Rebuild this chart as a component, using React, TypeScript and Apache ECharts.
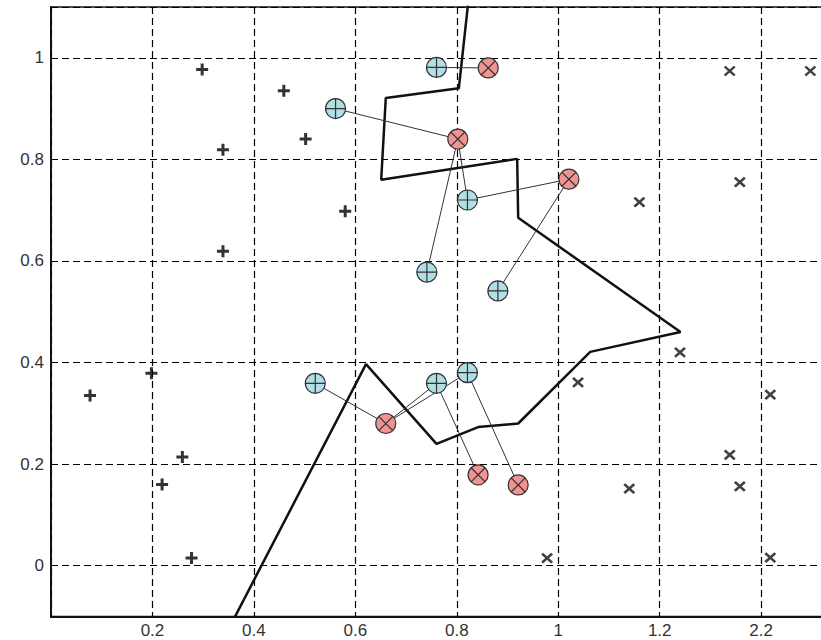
import React, { useEffect, useRef } from "react";
import * as echarts from "echarts";

// ---- data ----
const xTickLabels = ["0.2", "0.4", "0.6", "0.8", "1", "1.2", "2.2"];
const yTickLabels = ["0", "0.2", "0.4", "0.6", "0.8", "1"];

const plusPoints: [number, number][] = [
  [0.298, 0.977], [0.459, 0.935], [0.502, 0.84], [0.339, 0.819], [0.58, 0.698],
  [0.339, 0.619], [0.198, 0.379], [0.077, 0.335], [0.259, 0.214], [0.219, 0.16], [0.277, 0.015],
];

const crossPoints: [number, number][] = [
  [1.338, 0.974], [1.497, 0.974], [1.358, 0.755], [1.16, 0.716], [1.24, 0.42],
  [1.039, 0.361], [1.418, 0.337], [1.338, 0.218], [1.14, 0.152], [1.358, 0.156],
  [0.978, 0.015], [1.418, 0.016],
];

const bluePoints: [number, number][] = [
  [0.76, 0.981], [0.561, 0.9], [0.821, 0.72], [0.741, 0.578], [0.881, 0.541],
  [0.521, 0.359], [0.76, 0.359], [0.821, 0.38],
];

const redPoints: [number, number][] = [
  [0.862, 0.98], [0.802, 0.84], [1.021, 0.761], [0.66, 0.28], [0.842, 0.179], [0.921, 0.159],
];

// [blue index, red index]
const links: [number, number][] = [
  [0, 0], [1, 1], [2, 1], [2, 2], [3, 1], [4, 2], [5, 3], [6, 3], [7, 3], [6, 4], [7, 5],
];

const pathPoints: [number, number][] = [
  [0.827, 1.15], [0.804, 0.94], [0.66, 0.921], [0.651, 0.76], [0.919, 0.801], [0.921, 0.685],
  [1.241, 0.46], [1.063, 0.421], [0.921, 0.28], [0.842, 0.273], [0.76, 0.24], [0.621, 0.397],
  [0.311, -0.2],
];

const PLUS_SYMBOL = "path://M5,0 L5,10 M0,5 L10,5";
const X_SYMBOL = "path://M0,0 L10,10 M10,0 L0,10";
const BLUE_SYMBOL =
  "path://M0,10 A10,10 0 1 1 20,10 A10,10 0 1 1 0,10 Z M10,0 L10,20 M0,10 L20,10";
const RED_SYMBOL =
  "path://M0,10 A10,10 0 1 1 20,10 A10,10 0 1 1 0,10 Z M2.93,2.93 L17.07,17.07 M17.07,2.93 L2.93,17.07";

export default function App() {
  const ref = useRef<HTMLDivElement>(null);

  useEffect(() => {
    if (!ref.current) return;
    const chart = echarts.init(ref.current, null, { renderer: "svg" });
    const font = "'Liberation Sans', Arial, sans-serif";
    const option: any = {
      animation: false,
      backgroundColor: "#ffffff",
      grid: {
        left: 51,
        right: 17.4,
        top: 7,
        bottom: 23.5,
        show: true,
        borderColor: "#111",
        borderWidth: 1.5,
        backgroundColor: "transparent",
      },
      xAxis: {
        type: "value",
        min: 0,
        max: 1.6,
        interval: 0.2,
        axisLine: { show: true, onZero: false, lineStyle: { color: "#111", width: 2 } },
        axisTick: { show: false },
        splitLine: { show: true, lineStyle: { color: "#000", width: 1.2, type: [7, 4] } },
        axisLabel: {
          margin: 5,
          fontSize: 17,
          fontFamily: font,
          color: "#333",
          showMinLabel: true,
          showMaxLabel: true,
          formatter: (v: number) => {
            const i = Math.round(v / 0.2);
            if (Math.abs(v - i * 0.2) > 1e-6) return "";
            return i >= 1 && i <= xTickLabels.length ? xTickLabels[i - 1] : "";
          },
        },
      },
      yAxis: {
        type: "value",
        min: -0.1,
        max: 1.1,
        splitNumber: 6,
        axisLine: { show: true, onZero: false, lineStyle: { color: "#111", width: 2 } },
        axisTick: { show: false },
        splitLine: { show: true, lineStyle: { color: "#000", width: 1.2, type: [7, 4] } },
        axisLabel: {
          margin: 7,
          fontSize: 17,
          fontFamily: font,
          color: "#333",
          formatter: (v: number) => {
            const i = Math.round(v / 0.2);
            if (Math.abs(v - i * 0.2) > 1e-6) return "";
            return i >= 0 && i < yTickLabels.length ? yTickLabels[i] : "";
          },
        },
      },
      series: [
        {
          type: "line",
          data: pathPoints,
          symbol: "none",
          clip: true,
          z: 2,
          lineStyle: { color: "#111", width: 2.5 },
        },
        {
          type: "lines",
          coordinateSystem: "cartesian2d",
          z: 3,
          lineStyle: { color: "#333", width: 1, opacity: 1, curveness: 0 },
          data: links.map(([b, r]) => ({ coords: [bluePoints[b], redPoints[r]] })),
        },
        {
          type: "scatter",
          data: plusPoints,
          symbol: PLUS_SYMBOL,
          symbolSize: 12,
          z: 4,
          itemStyle: { color: "#000", borderColor: "#000", borderWidth: 3 },
        },
        {
          type: "scatter",
          data: crossPoints,
          symbol: X_SYMBOL,
          symbolSize: [10, 9],
          z: 4,
          itemStyle: { color: "#000", borderColor: "#111", borderWidth: 2.6 },
        },
        {
          type: "scatter",
          data: bluePoints,
          symbol: BLUE_SYMBOL,
          symbolSize: 20,
          z: 5,
          itemStyle: { color: "#b0dfe5", borderColor: "#333", borderWidth: 1.2, opacity: 1 },
        },
        {
          type: "scatter",
          data: redPoints,
          symbol: RED_SYMBOL,
          symbolSize: 20,
          z: 5,
          itemStyle: { color: "#f19393", borderColor: "#333", borderWidth: 1.2, opacity: 1 },
        },
      ],
    };
    chart.setOption(option);
    return () => chart.dispose();
  }, []);

  return (
    <div
      style={{
        position: "absolute",
        left: 0,
        top: 0,
        width: 821,
        height: 640,
        overflow: "hidden",
        background: "#fff",
      }}
    >
      <div ref={ref} style={{ width: 880, height: 640 }} />
    </div>
  );
}
